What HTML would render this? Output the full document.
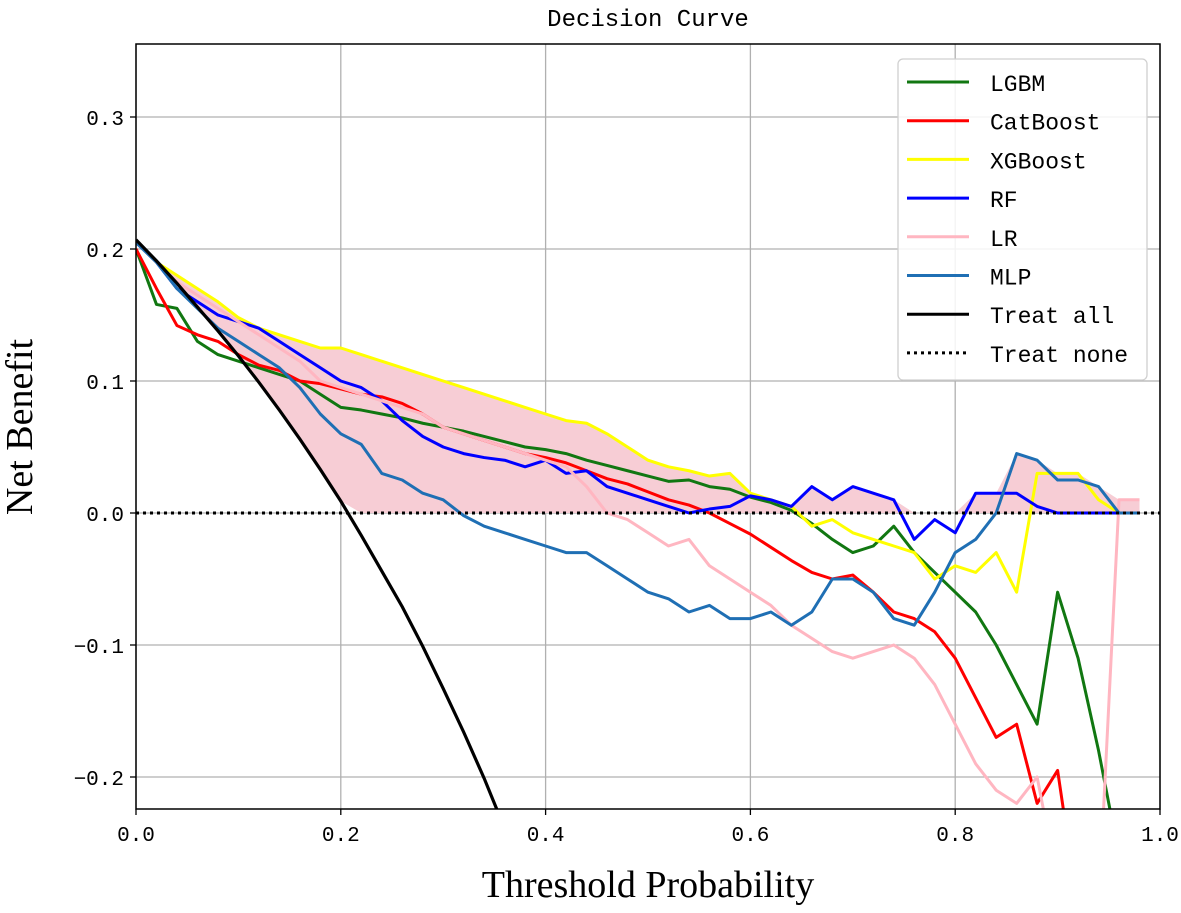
<!DOCTYPE html>
<html><head><meta charset="utf-8"><style>
body{margin:0;background:#fff;}
svg text{font-family:"WenQuanYi Zen Hei","Liberation Mono",monospace;}
</style></head><body>
<svg id="chart" width="1181" height="908" viewBox="0 0 1181 908">
<text x="648" y="26" text-anchor="middle" font-size="24">Decision Curve</text>
<g id="grid"></g>
<g id="fill"></g>
<g id="lines"></g>
<g id="axes"></g>
<text x="648" y="897" text-anchor="middle" font-size="38" style="font-family:'Liberation Serif',serif">Threshold Probability</text>
<text transform="translate(32,427) rotate(-90)" text-anchor="middle" font-size="38" style="font-family:'Liberation Serif',serif">Net Benefit</text>
<g id="legend"></g>
</svg>
<script>
const thresholds=[0,.02,.04,.06,.08,.10,.12,.14,.16,.18,.20,.22,.24,.26,.28,.30,.32,.34,.36,.38,.40,.42,.44,.46,.48,.50,.52,.54,.56,.58,.60,.62,.64,.66,.68,.70,.72,.74,.76,.78,.80,.82,.84,.86,.88,.90,.92,.94,.96,.98];
const lgbm=[.20,.158,.155,.13,.12,.115,.11,.105,.10,.09,.08,.078,.075,.072,.068,.065,.062,.058,.054,.05,.048,.045,.04,.036,.032,.028,.024,.025,.02,.018,.012,.008,.002,-.008,-.02,-.03,-.025,-.01,-.03,-.045,-.06,-.075,-.10,-.13,-.16,-.06,-.11,-.18,-.26,-.32];
const catboost=[.20,.17,.142,.135,.13,.12,.112,.108,.10,.098,.094,.09,.088,.083,.075,.065,.06,.055,.05,.045,.042,.038,.032,.026,.022,.016,.01,.006,0,-.008,-.016,-.026,-.036,-.045,-.05,-.047,-.06,-.075,-.08,-.09,-.11,-.14,-.17,-.16,-.22,-.195,-.3,-.32,-.32,-.32];
const xgboost=[.205,.19,.18,.17,.16,.148,.14,.135,.13,.125,.125,.12,.115,.11,.105,.10,.095,.09,.085,.08,.075,.07,.068,.06,.05,.04,.035,.032,.028,.03,.015,.01,.005,-.01,-.005,-.015,-.02,-.025,-.03,-.05,-.04,-.045,-.03,-.06,.03,.03,.03,.01,0,0];
const rf=[.205,.19,.17,.16,.15,.145,.14,.13,.12,.11,.10,.095,.085,.07,.058,.05,.045,.042,.04,.035,.04,.03,.032,.02,.015,.01,.005,0,.003,.005,.013,.01,.005,.02,.01,.02,.015,.01,-.02,-.005,-.015,.015,.015,.015,.005,0,0,0,0,0];
const lr=[.205,.19,.175,.165,.155,.145,.135,.125,.115,.10,.095,.09,.085,.08,.075,.065,.06,.055,.05,.045,.04,.035,.02,0,-.005,-.015,-.025,-.02,-.04,-.05,-.06,-.07,-.085,-.095,-.105,-.11,-.105,-.1,-.11,-.13,-.16,-.19,-.21,-.22,-.2,-.28,-.3,-.3,.01,.01];
const mlp=[.205,.19,.17,.155,.14,.13,.12,.11,.095,.075,.06,.052,.03,.025,.015,.01,-.002,-.01,-.015,-.02,-.025,-.03,-.03,-.04,-.05,-.06,-.065,-.075,-.07,-.08,-.08,-.075,-.085,-.075,-.05,-.05,-.06,-.08,-.085,-.06,-.03,-.02,0,.045,.04,.025,.025,.02,0,0];
const treatAllX=[0,.02,.04,.06,.08,.10,.12,.14,.16,.18,.20,.22,.24,.26,.28,.30,.32,.34,.36];
const treatAll=[.207,.191,.174,.156,.138,.119,.099,.078,.056,.033,.009,-.017,-.044,-.071,-.101,-.133,-.166,-.201,-.239];
const xTicks=[0,.2,.4,.6,.8,1.0];
const yTicks=[-.2,-.1,0,.1,.2,.3];
const seriesNames=["LGBM","CatBoost","XGBoost","RF","LR","MLP"];
const seriesColors=["#117711","#ff0000","#ffff00","#0000ff","#ffb6c1","#1f6fb4"];
const series=[lgbm,catboost,xgboost,rf,lr,mlp];

const X0=136,X1=1160,YT=44,YB=809;
const sx=t=>X0+(X1-X0)*t;
const sy=v=>513-v*1320;
const NS="http://www.w3.org/2000/svg";
function mk(tag,attrs,parent){const e=document.createElementNS(NS,tag);for(const k in attrs)e.setAttribute(k,attrs[k]);parent.appendChild(e);return e;}
const svg=document.getElementById('chart');
const defs=mk('defs',{},svg);
const cp=mk('clipPath',{id:'clip'},defs);
mk('rect',{x:X0,y:YT,width:X1-X0,height:YB-YT},cp);

const grid=document.getElementById('grid');
xTicks.forEach(t=>{const l=mk('line',{x1:sx(t),x2:sx(t),y1:YT,y2:YB,stroke:'#b0b0b0','stroke-width':1.3},grid);

});
yTicks.forEach(v=>{const l=mk('line',{x1:X0,x2:X1,y1:sy(v),y2:sy(v),stroke:'#b0b0b0','stroke-width':1.3},grid);

});

const fillG=document.getElementById('fill');
fillG.setAttribute('clip-path','url(#clip)');
const ta=t=>{for(let i=0;i<treatAllX.length-1;i++){if(t<=treatAllX[i+1]){const f=(t-treatAllX[i])/(treatAllX[i+1]-treatAllX[i]);return treatAll[i]+f*(treatAll[i+1]-treatAll[i]);}}return -1;};
let up=[],lo=[];
thresholds.forEach((t,i)=>{const m=Math.max(...series.map(s=>s[i]));const b=Math.max(ta(t),0);up.push([sx(t),sy(Math.max(m,b))]);lo.push([sx(t),sy(b)]);});
const fp=mk('path',{d:'M'+up.map(p=>p.join(',')).join('L')+'L'+lo.reverse().map(p=>p.join(',')).join('L')+'Z',fill:'#f7cdd5',stroke:'none'},fillG);



const linesG=document.getElementById('lines');
linesG.setAttribute('clip-path','url(#clip)');
series.forEach((s,k)=>{const p=mk('path',{d:'M'+s.map((v,i)=>sx(thresholds[i])+','+sy(v)).join('L'),fill:'none',stroke:seriesColors[k],'stroke-width':3,'stroke-linejoin':'round'},linesG);

});
const tal=mk('path',{d:'M'+treatAll.map((v,i)=>sx(treatAllX[i])+','+sy(v)).join('L'),fill:'none',stroke:'#000','stroke-width':3.2},linesG);


const tn=mk('line',{x1:X0,x2:X1,y1:sy(0),y2:sy(0),stroke:'#000','stroke-width':3,'stroke-dasharray':'3,4'},linesG);



const ax=document.getElementById('axes');
const fr=mk('rect',{x:X0,y:YT,width:X1-X0,height:YB-YT,fill:'none',stroke:'#000','stroke-width':1.5},ax);


xTicks.forEach(t=>{mk('line',{x1:sx(t),x2:sx(t),y1:YB,y2:YB+6,stroke:'#000','stroke-width':1.3},ax);
const tx=mk('text',{x:sx(t),y:YB+32,'text-anchor':'middle','font-size':21},ax);tx.textContent=t.toFixed(1);

});
yTicks.forEach(v=>{mk('line',{x1:X0-6,x2:X0,y1:sy(v),y2:sy(v),stroke:'#000','stroke-width':1.3},ax);
const tx=mk('text',{x:X0-12,y:sy(v)+8,'text-anchor':'end','font-size':21},ax);tx.textContent=(v<0?'\u2212':'')+Math.abs(v).toFixed(1);

});

const lg=document.getElementById('legend');


mk('rect',{x:898,y:59,width:249,height:321,rx:5,fill:'#fff','fill-opacity':0.85,stroke:'#d0d0d0','stroke-width':1.3},lg);
const names=[...seriesNames,"Treat all","Treat none"];
const cols=[...seriesColors,"#000","#000"];
names.forEach((n,i)=>{const y=82+i*38.7;
const l=mk('line',{x1:907,x2:969,y1:y,y2:y,stroke:cols[i],'stroke-width':3},lg);
if(i===7)l.setAttribute('stroke-dasharray','3,4');


const t=mk('text',{x:990,y:y+9,'font-size':23},lg);t.textContent=n;

});
</script>
</body></html>
